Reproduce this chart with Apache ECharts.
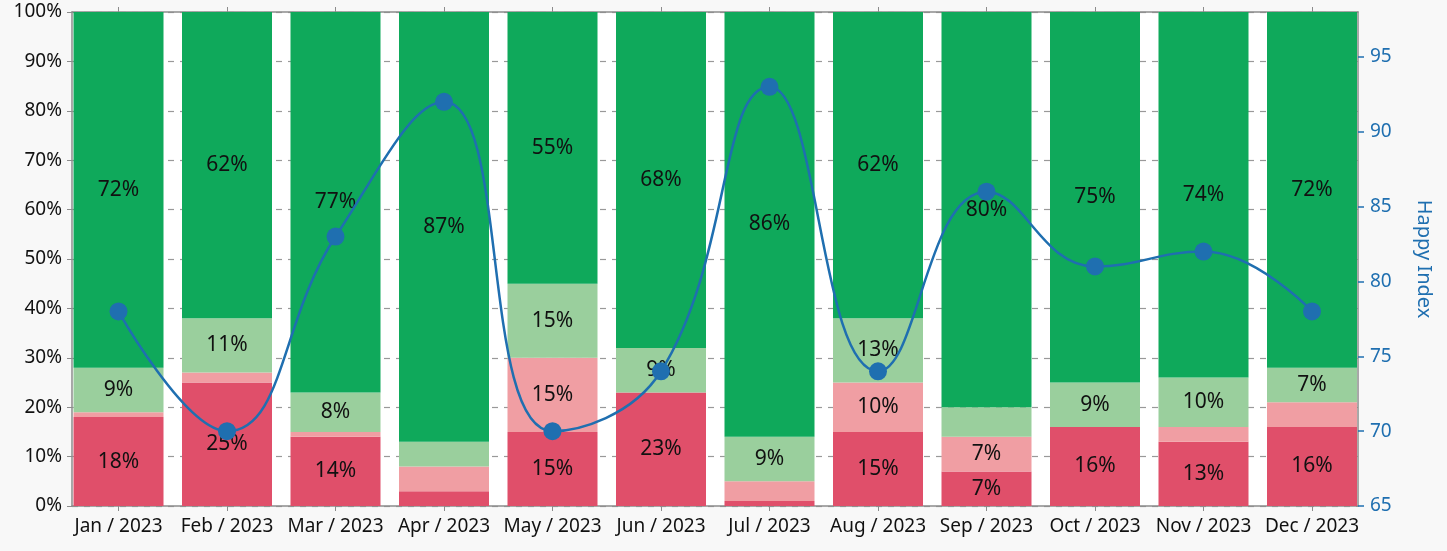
<!DOCTYPE html>
<html>
<head>
<meta charset="utf-8">
<script src="https://cdn.jsdelivr.net/npm/echarts@6/dist/echarts.min.js"></script>
<style>
  html, body { margin: 0; padding: 0; background: #f8f8f8; }
  #chart { width: 1447px; height: 551px; }
</style>
</head>
<body>
<div id="chart"></div>
<script>
// Monthly share of responses (percent) and the happiness index
const months = ['Jan / 2023', 'Feb / 2023', 'Mar / 2023', 'Apr / 2023', 'May / 2023', 'Jun / 2023',
                'Jul / 2023', 'Aug / 2023', 'Sep / 2023', 'Oct / 2023', 'Nov / 2023', 'Dec / 2023'];
const veryUnhappy = [18, 25, 14, 3, 15, 23, 1, 15, 7, 16, 13, 16];
const unhappy     = [1, 2, 1, 5, 15, 0, 4, 10, 7, 0, 3, 5];
const happy       = [9, 11, 8, 5, 15, 9, 9, 13, 6, 9, 10, 7];
const veryHappy   = [72, 62, 77, 87, 55, 68, 86, 62, 80, 75, 74, 72];
const happyIndex  = [78, 70, 83, 92, 70, 74, 93, 74, 86, 81, 82, 78];
const percentTicks = [0, 10, 20, 30, 40, 50, 60, 70, 80, 90, 100];
const indexTicks = [65, 70, 75, 80, 85, 90, 95];

const FONT = 'Noto Sans';
const AXIS_GRAY = '#8c8c8c';
const BLUE = '#1f6fb0';

// Plot frame, and a slightly wider band grid so the outer bars sit flush with the frame
const PLOT = { left: 72, right: 89, top: 12, bottom: 45 };
const BAR_W = 90;
const BAND_GRID = { left: 64.25, right: 80.75, top: 12, bottom: 45 };

function barSeries(name, data, color) {
  return {
    name: name,
    type: 'bar',
    stack: 'share',
    xAxisIndex: 0,
    yAxisIndex: 0,
    data: data,
    barWidth: BAR_W,
    itemStyle: { color: color },
    label: {
      show: true,
      position: 'inside',
      fontFamily: FONT,
      fontSize: 21,
      color: '#111',
      formatter: p => (p.value >= 7 ? p.value + '%' : '')
    },
    z: 2
  };
}

const frameLine = { show: true, lineStyle: { color: AXIS_GRAY, width: 1.5 } };

const chart = echarts.init(document.getElementById('chart'), null, { renderer: 'canvas' });
chart.setOption({
  backgroundColor: '#f8f8f8',
  animation: false,
  grid: [
    Object.assign({ show: false }, BAND_GRID),
    Object.assign({ show: true, backgroundColor: '#ffffff', borderWidth: 0 }, PLOT)
  ],
  xAxis: [
    {
      gridIndex: 0, type: 'category', data: months, position: 'bottom',
      axisLine: { show: false },
      axisTick: { show: true, alignWithLabel: true, length: 5, lineStyle: { color: AXIS_GRAY } },
      axisLabel: { interval: 0, fontFamily: FONT, fontSize: 19, color: '#111', margin: 11 }
    },
    {
      gridIndex: 0, type: 'category', data: months, position: 'top',
      axisLine: { show: false },
      axisTick: { show: true, alignWithLabel: true, length: 5, lineStyle: { color: AXIS_GRAY } },
      axisLabel: { show: false }
    },
    {
      gridIndex: 1, type: 'category', data: months, position: 'bottom',
      axisLine: frameLine, axisTick: { show: false }, axisLabel: { show: false }
    },
    {
      gridIndex: 1, type: 'category', data: months, position: 'top',
      axisLine: frameLine, axisTick: { show: false }, axisLabel: { show: false }
    }
  ],
  yAxis: [
    { gridIndex: 0, type: 'value', min: 0, max: 100, show: false },
    { gridIndex: 0, type: 'value', min: 65, max: 98, show: false },
    {
      gridIndex: 1, type: 'value', min: 0, max: 100, interval: 10, position: 'left',
      axisLine: frameLine,
      axisTick: { show: true, length: 5, lineStyle: { color: AXIS_GRAY }, customValues: percentTicks },
      axisLabel: { fontFamily: FONT, fontSize: 19, color: '#111', margin: 10, formatter: '{value}%', customValues: percentTicks },
      splitLine: { show: true, lineStyle: { color: '#999', type: [6, 6], width: 1.2 } }
    },
    {
      gridIndex: 1, type: 'value', min: 65, max: 98, position: 'right',
      name: 'Happy Index',
      nameLocation: 'middle',
      nameRotate: -90,
      nameGap: 56,
      nameTextStyle: { fontFamily: FONT, fontSize: 20, color: BLUE },
      axisLine: frameLine,
      axisTick: { show: true, length: 6, lineStyle: { color: BLUE, width: 1.5 }, customValues: indexTicks },
      axisLabel: { fontFamily: FONT, fontSize: 19, color: BLUE, margin: 12, customValues: indexTicks },
      splitLine: { show: false }
    }
  ],
  series: [
    barSeries('Very unhappy', veryUnhappy, '#e04f6a'),
    barSeries('Unhappy', unhappy, '#f09ea3'),
    barSeries('Happy', happy, '#9acf9d'),
    barSeries('Very happy', veryHappy, '#0fa95b'),
    {
      name: 'Happy Index',
      type: 'line',
      xAxisIndex: 0,
      yAxisIndex: 1,
      data: happyIndex,
      smooth: 0.45,
      symbol: 'circle',
      symbolSize: 18,
      lineStyle: { color: BLUE, width: 2.5 },
      itemStyle: { color: BLUE },
      z: 10
    }
  ]
});
</script>
</body>
</html>
